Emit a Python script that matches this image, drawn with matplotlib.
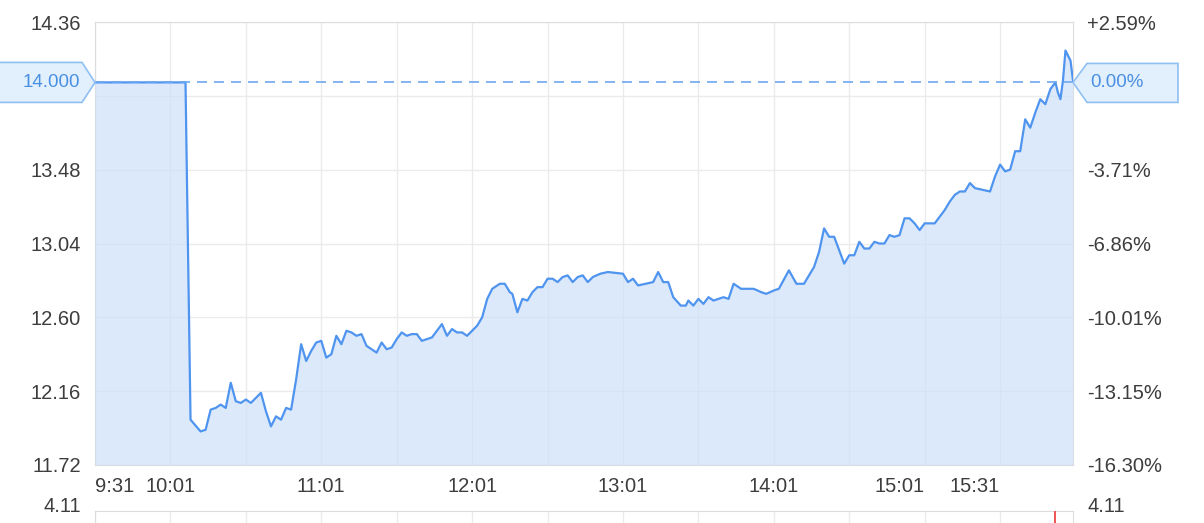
import numpy as np
import matplotlib
matplotlib.use('Agg')
import matplotlib.pyplot as plt
from matplotlib.patches import Polygon
from matplotlib.transforms import IdentityTransform

plt.rcParams['font.family'] = ['Liberation Sans', 'DejaVu Sans']

# Colour palette
LINE     = '#4f94ef'
FILL     = '#cee0f9'
GRID     = '#ebebeb'
FRAME    = '#dcdcdc'
TXT      = '#3d3d3d'
TAG_FILL = '#e2effd'
TAG_EDGE = '#8fc0f3'
TAG_TXT  = '#4a90e2'
DASH     = '#6ea8f0'
RED      = '#f25757'

# Intraday price, minutes after 9:31
minutes = [0, 36, 38, 42, 44, 46, 48, 50, 52, 54,
           56, 58, 60, 62, 66, 68, 70, 72, 74, 76,
           78, 80, 82, 84, 86, 88, 90, 92, 94, 96,
           98, 100, 102, 104, 106, 108, 110, 112, 114, 116,
           118, 120, 122, 124, 126, 128, 130, 132, 134, 136,
           138, 140, 142, 144, 146, 148, 150, 152, 154, 156,
           158, 161, 163, 165, 166, 168, 170, 172, 174, 176,
           178, 180, 182, 184, 186, 188, 190, 192, 194, 196,
           198, 201, 204, 210, 212, 214, 216, 222, 224, 226,
           228, 230, 233, 235, 236, 238, 240, 242, 244, 246,
           248, 250, 252, 254, 257, 262, 265, 267, 270, 272,
           276, 279, 282, 286, 288, 290, 292, 294, 296, 298,
           300, 302, 304, 306, 308, 310, 312, 314, 316, 318,
           320, 322, 324, 326, 328, 330, 332, 334, 336, 338,
           340, 342, 344, 346, 348, 350, 353, 356, 358, 360,
           362, 364, 366, 368, 370, 372, 374, 376, 378, 380,
           382, 383, 384, 385, 386, 388, 389]

prices = [14.00, 14.00, 11.99, 11.92, 11.93, 12.05, 12.06, 12.08, 12.06, 12.21,
          12.10, 12.09, 12.11, 12.09, 12.15, 12.04, 11.95, 12.01, 11.99, 12.06,
          12.05, 12.23, 12.44, 12.34, 12.40, 12.45, 12.46, 12.36, 12.38, 12.49,
          12.44, 12.52, 12.51, 12.49, 12.50, 12.43, 12.41, 12.39, 12.45, 12.41,
          12.42, 12.47, 12.51, 12.49, 12.50, 12.50, 12.46, 12.47, 12.48, 12.52,
          12.56, 12.49, 12.53, 12.51, 12.51, 12.49, 12.52, 12.55, 12.60, 12.71,
          12.77, 12.80, 12.80, 12.75, 12.74, 12.63, 12.71, 12.70, 12.75, 12.78,
          12.78, 12.83, 12.83, 12.81, 12.84, 12.85, 12.81, 12.84, 12.85, 12.81,
          12.84, 12.86, 12.87, 12.86, 12.81, 12.83, 12.79, 12.81, 12.87, 12.81,
          12.81, 12.72, 12.67, 12.67, 12.70, 12.67, 12.71, 12.68, 12.72, 12.70,
          12.71, 12.72, 12.71, 12.80, 12.77, 12.77, 12.75, 12.74, 12.76, 12.77,
          12.88, 12.80, 12.80, 12.90, 12.99, 13.13, 13.08, 13.08, 13.00, 12.92,
          12.97, 12.97, 13.05, 13.01, 13.01, 13.05, 13.04, 13.04, 13.09, 13.08,
          13.09, 13.19, 13.19, 13.16, 13.12, 13.16, 13.16, 13.16, 13.20, 13.24,
          13.29, 13.33, 13.35, 13.35, 13.40, 13.37, 13.36, 13.35, 13.44, 13.51,
          13.47, 13.48, 13.59, 13.59, 13.78, 13.73, 13.82, 13.90, 13.87, 13.96,
          14.00, 13.94, 13.90, 14.01, 14.19, 14.13, 14.01]

prev_close = 14.00
session_len = 389

y_ticks    = [14.36, 13.92, 13.48, 13.04, 12.60, 12.16, 11.72]
y_labels   = ['14.36', '', '13.48', '13.04', '12.60', '12.16', '11.72']
pct_labels = ['+2.59%', '', '-3.71%', '-6.86%', '-10.01%', '-13.15%', '-16.30%']

x_ticks  = [0, 30, 60, 90, 120, 150, 180, 210, 240, 270, 300, 330, 360]
x_labels = ['9:31', '10:01', '', '11:01', '', '12:01', '', '13:01', '', '14:01', '',
            '15:01', '15:31']
x_align  = ['left', 'center', 'center', 'center', 'center', 'center', 'center',
            'center', 'center', 'center', 'center', 'right', 'right']

vol_minutes = [382]
vol_values  = [4.11]
vol_max     = 4.11

W, H = 1204, 523
fig = plt.figure(figsize=(W / 100, H / 100), dpi=100, facecolor='white')

# Price panel
ax = fig.add_axes([95 / W, 58 / H, 978 / W, 443 / H])
ax.set_xlim(0, session_len)
ax.set_ylim(y_ticks[-1], y_ticks[0])
ax.fill_between(minutes, prices, y_ticks[-1], color=FILL, alpha=0.7, lw=0, zorder=3)
ax.plot(minutes, prices, color=LINE, lw=1.6, zorder=4)
ax.axhline(prev_close, color=DASH, lw=1.2, ls=(0, (6, 4.2)), zorder=5)

ax.set_yticks(y_ticks)
ax.set_yticklabels(y_labels)
ax.set_xticks(x_ticks)
ax.set_xticklabels(x_labels)
for lab, al in zip(ax.get_xticklabels(), x_align):
    lab.set_ha(al)
ax.grid(True, color=GRID, lw=1, zorder=1)
ax.set_axisbelow(True)
ax.tick_params(length=0, labelsize=14.5, colors=TXT, pad=10)
ax.tick_params(axis='x', pad=9)
for sp in ax.spines.values():
    sp.set_color(FRAME)

ax2 = ax.twinx()
ax2.set_ylim(ax.get_ylim())
ax2.set_yticks(y_ticks)
ax2.set_yticklabels(pct_labels)
ax2.tick_params(length=0, labelsize=14.5, colors=TXT, pad=10)
for sp in ax2.spines.values():
    sp.set_visible(False)

# Price tags at the previous close
x0, y0 = ax.transData.transform((0, prev_close))
x1, _ = ax.transData.transform((session_len, prev_close))
left_tag = Polygon([(x0 - 100, y0 + 20), (x0 - 13, y0 + 20), (x0, y0),
                    (x0 - 13, y0 - 20), (x0 - 100, y0 - 20)],
                   closed=True, fc=TAG_FILL, ec=TAG_EDGE, lw=1.2,
                   transform=IdentityTransform())
right_tag = Polygon([(x1, y0), (x1 + 14, y0 + 19), (x1 + 105, y0 + 19),
                     (x1 + 105, y0 - 20), (x1 + 14, y0 - 20)],
                    closed=True, fc=TAG_FILL, ec=TAG_EDGE, lw=1.2,
                    transform=IdentityTransform())
fig.add_artist(left_tag)
fig.add_artist(right_tag)
fig.text(x0 - 15, y0, f'{prev_close:.3f}', transform=IdentityTransform(),
         ha='right', va='center', color=TAG_TXT, fontsize=13.5)
fig.text(x1 + 17, y0, '0.00%', transform=IdentityTransform(),
         ha='left', va='center', color=TAG_TXT, fontsize=13.5)

# Volume panel (mostly below the visible area)
vax = fig.add_axes([95 / W, (12 - 200) / H, 978 / W, 200 / H])
vax.set_xlim(0, session_len)
vax.set_ylim(0, vol_max)
vax.bar(vol_minutes, vol_values, width=0.8, color=RED, zorder=3)
vax.set_xticks(x_ticks)
vax.grid(True, axis='x', color=GRID, lw=1, zorder=1)
vax.tick_params(length=0, labelbottom=False, labelleft=False)
vax.set_yticks([])
for sp in vax.spines.values():
    sp.set_color(FRAME)

vx0, vy0 = vax.transData.transform((0, vol_max))
vx1, _ = vax.transData.transform((session_len, vol_max))
fig.text(vx0 - 14, vy0 + 5, f'{vol_max:.2f}', transform=IdentityTransform(),
         ha='right', va='center', color=TXT, fontsize=14.5)
fig.text(vx1 + 14, vy0 + 5, f'{vol_max:.2f}', transform=IdentityTransform(),
         ha='left', va='center', color=TXT, fontsize=14.5)

fig.savefig('out.png', dpi=100, facecolor='white')
